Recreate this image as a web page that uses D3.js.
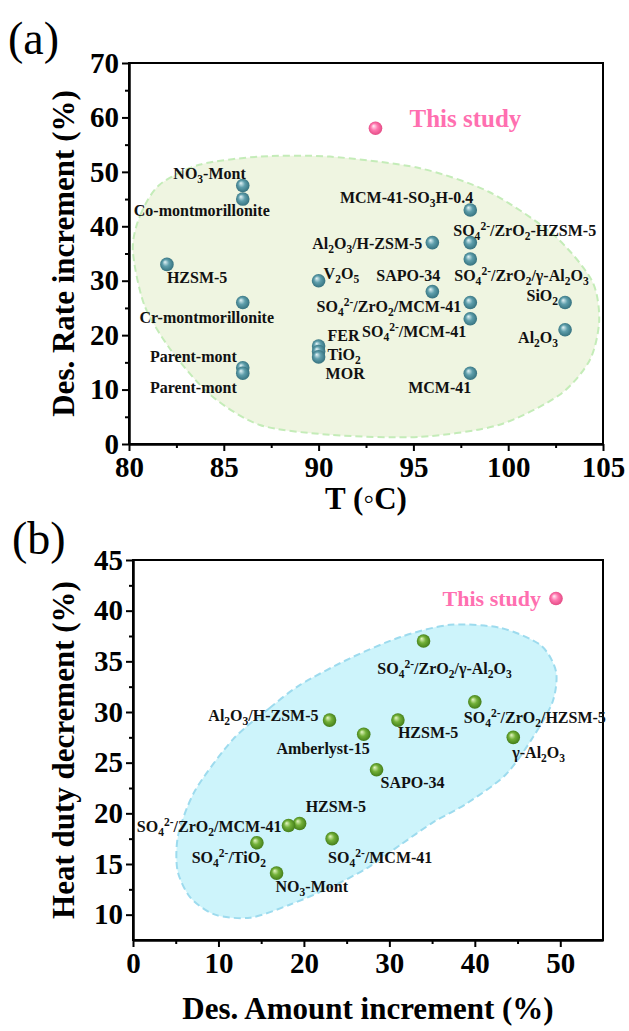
<!DOCTYPE html>
<html>
<head>
<meta charset="utf-8">
<script src="https://cdn.jsdelivr.net/npm/d3@7"></script>
<style>
body { margin: 0; background: #fff; }
svg { display: block; font-family: "Liberation Serif", "Times New Roman", serif; }
</style>
</head>
<body>
<div id="chart"></div>
<script>
// ---- panel (a): desorption rate increment vs temperature ----
var namesA = ["NO_{3}-Mont", "Co-montmorillonite", "HZSM-5", "Cr-montmorillonite", "Parent-mont", "Parent-mont",
    "V_{2}O_{5}", "FER", "TiO_{2}", "MOR", "Al_{2}O_{3}/H-ZSM-5", "MCM-41-SO_{3}H-0.4",
    "SO_{4}^{2-}/ZrO_{2}-HZSM-5", "SO_{4}^{2-}/ZrO_{2}/γ-Al_{2}O_{3}", "SAPO-34", "SO_{4}^{2-}/ZrO_{2}/MCM-41",
    "SO_{4}^{2-}/MCM-41", "MCM-41", "SiO_{2}", "Al_{2}O_{3}"];
var tempA = [86, 86, 82, 86, 86, 86, 90, 90, 90, 90, 96, 98, 98, 98, 96, 98, 98, 98, 103, 103];
var rateA = [47.5, 45, 33, 26, 14, 13, 30, 18, 17, 16, 37, 43, 37, 34, 28, 26, 23, 13, 26, 21];
var studyA = [93, 58];
// outline of the shaded region (a)
var blobTA = [80.2, 80.6, 81.6, 83.7, 86.9, 90.6, 95.3, 99.0, 102.4, 104.4, 104.8, 104.3, 102.7, 99.5, 95.3, 90.6, 86.9, 84.3, 82.2, 80.8];
var blobRA = [35.7, 42.1, 47.6, 51.3, 52.8, 52.8, 50.7, 46.3, 38.4, 30.1, 22.8, 15.4, 9.0, 3.5, 1.3, 1.7, 3.5, 9.0, 17.3, 25.6];
var ticksTA = [80, 85, 90, 95, 100, 105];
var ticksRA = [0, 10, 20, 30, 40, 50, 60, 70];

// ---- panel (b): heat duty decrement vs desorption amount increment ----
var namesB = ["SO_{4}^{2-}/ZrO_{2}/γ-Al_{2}O_{3}", "SO_{4}^{2-}/ZrO_{2}/HZSM-5", "γ-Al_{2}O_{3}", "Al_{2}O_{3}/H-ZSM-5",
    "HZSM-5", "Amberlyst-15", "SAPO-34", "HZSM-5", "SO_{4}^{2-}/ZrO_{2}/MCM-41", "SO_{4}^{2-}/TiO_{2}",
    "NO_{3}-Mont", "SO_{4}^{2-}/MCM-41"];
var amountB = [34, 40, 44.5, 23, 31, 27, 28.5, 19.5, 18.2, 14.5, 16.8, 23.3];
var heatB = [37, 31, 27.5, 29.2, 29.2, 27.8, 24.3, 19, 18.8, 17.1, 14.1, 17.5];
var studyB = [49.5, 41.2];
var blobXB = [11.7, 16.0, 19.6, 25.4, 31.3, 37.1, 43.0, 47.7, 49.5, 49.1, 46.8, 43.6, 39.1, 35.1, 31.3, 27.4, 23.1, 18.4, 13.7, 9.6, 6.7, 5.2, 5.3, 7.3];
var blobYB = [27.3, 30.4, 32.7, 35.3, 37.4, 38.6, 38.3, 36.6, 34.0, 31.0, 27.5, 23.8, 21.0, 19.1, 16.9, 14.6, 12.7, 11.0, 9.7, 10.0, 11.7, 14.4, 17.9, 22.3];
var ticksXB = [0, 10, 20, 30, 40, 50];
var ticksYB = [10, 15, 20, 25, 30, 35, 40, 45];

// label placement: [anchor, dx, dy]
var labA = [["end", 3, -6], ["middle", -41, 17], ["start", 0, 19], ["middle", -36, 21], ["end", -6, -6], ["end", -6, 20],
    ["start", 5, -2], ["start", 9, -5], ["start", 9, 9], ["start", 7, 22], ["end", -10, 6], ["end", 3, -7],
    ["start", -17, -7], ["start", -16, 22], ["middle", -24, -11], ["end", -9, 10], ["end", -4, 18], ["end", 1, 20],
    ["end", -7, -1], ["end", -7, 13]];
var labB = [["middle", 21, 33], ["start", -11, 21], ["start", -1, 21], ["end", -11, 1], ["start", 0, 18], ["end", 6, 20],
    ["start", 4, 18], ["start", 6, -11], ["end", -7, 7], ["end", 9, 20], ["start", -1, 19], ["start", -4, 24]];

var W = 629, H = 1031;
var svg = d3.select("#chart").append("svg").attr("width", W).attr("height", H);
var defs = svg.append("defs");

function ball(id, hi, mid, dark) {
    var g = defs.append("radialGradient").attr("id", id)
        .attr("cx", "50%").attr("cy", "50%").attr("r", "55%").attr("fx", "35%").attr("fy", "32%");
    g.append("stop").attr("offset", "0%").attr("stop-color", hi);
    g.append("stop").attr("offset", "45%").attr("stop-color", mid);
    g.append("stop").attr("offset", "100%").attr("stop-color", dark);
}
ball("teal", "#e4f4f7", "#5e9eab", "#306c79");
ball("green", "#e6f7c4", "#72b038", "#3d7716");
ball("pink", "#fff0f6", "#ff78b0", "#e0457f");

// text with _{sub} and ^{sup}
function rich(t, str) {
    var parts = str.split(/(_\{[^}]*\}|\^\{[^}]*\})/).filter(Boolean);
    var shift = 0;
    parts.forEach(function(p) {
        var s = t.append("tspan"), target = 0, txt = p;
        if (p[0] === "_") { target = 4; txt = p.slice(2, -1); s.attr("font-size", "0.72em"); }
        else if (p[0] === "^") { target = -6; txt = p.slice(2, -1); s.attr("font-size", "0.72em"); }
        s.attr("dy", target - shift).text(txt);
        shift = target;
    });
}

function panel(o) {
    var x = d3.scaleLinear().domain(o.xDom).range(o.xRange);
    var y = d3.scaleLinear().domain(o.yDom).range(o.yRange);
    var g = svg.append("g");

    // shaded region
    var pts = o.blobX.map(function(v, i) { return [v, o.blobY[i]]; });
    g.append("path")
        .attr("d", d3.line().x(function(d) { return x(d[0]); }).y(function(d) { return y(d[1]); })
            .curve(d3.curveCardinalClosed.tension(0.2))(pts))
        .attr("fill", o.blobFill).attr("stroke", o.blobStroke)
        .attr("stroke-width", 2).attr("stroke-dasharray", "7,4");

    // frame
    g.append("rect")
        .attr("x", o.xRange[0]).attr("y", o.yRange[1])
        .attr("width", o.xRange[1] - o.xRange[0]).attr("height", o.yRange[0] - o.yRange[1])
        .attr("fill", "none").attr("stroke", "#000").attr("stroke-width", 2);

    // axes
    g.append("g").attr("transform", "translate(0," + o.yRange[0] + ")")
        .call(d3.axisBottom(x).tickValues(o.xTicks).tickSize(7).tickSizeOuter(0).tickPadding(5));
    g.append("g").attr("transform", "translate(0," + o.yRange[0] + ")")
        .call(d3.axisBottom(x).tickValues(o.xMinor).tickSize(4).tickSizeOuter(0).tickFormat(""));
    g.append("g").attr("transform", "translate(" + o.xRange[0] + ",0)")
        .call(d3.axisLeft(y).tickValues(o.yTicks).tickSize(7).tickSizeOuter(0).tickPadding(3));
    g.append("g").attr("transform", "translate(" + o.xRange[0] + ",0)")
        .call(d3.axisLeft(y).tickValues(o.yMinor).tickSize(4).tickSizeOuter(0).tickFormat(""));
    g.selectAll(".domain").attr("stroke-width", 2);
    g.selectAll(".tick line").attr("stroke-width", 2);
    g.selectAll(".tick text").attr("font-family", "Liberation Serif").attr("font-weight", "bold")
        .attr("font-size", 29).attr("fill", "#000");

    // axis titles
    g.append("text").attr("x", (o.xRange[0] + o.xRange[1]) / 2).attr("y", o.xTitleY)
        .attr("text-anchor", "middle").attr("font-weight", "bold").attr("font-size", 31).text(o.xTitle);
    g.append("text").attr("transform", "translate(" + o.yTitleX + "," + (o.yRange[0] + o.yRange[1]) / 2 + ") rotate(-90)")
        .attr("text-anchor", "middle").attr("font-weight", "bold").attr("font-size", 31).text(o.yTitle);

    // panel letter
    g.append("text").attr("x", o.letterPos[0]).attr("y", o.letterPos[1])
        .attr("font-size", 46).text(o.letter);

    // points
    g.selectAll("circle.pt").data(o.xs).join("circle").attr("class", "pt")
        .attr("cx", function(d) { return x(d); })
        .attr("cy", function(d, i) { return y(o.ys[i]); })
        .attr("r", 6.8).attr("fill", "url(#" + o.ball + ")");
    g.append("circle").attr("cx", x(o.study[0])).attr("cy", y(o.study[1]))
        .attr("r", 6.8).attr("fill", "url(#pink)");

    // labels
    o.names.forEach(function(n, i) {
        var l = o.lab[i];
        var t = g.append("text")
            .attr("x", x(o.xs[i]) + l[1]).attr("y", y(o.ys[i]) + l[2])
            .attr("text-anchor", l[0]).attr("font-weight", "bold").attr("font-size", 16).attr("fill", "#111");
        rich(t, n);
    });
    g.append("text").attr("x", x(o.study[0]) + o.studyLab[1]).attr("y", y(o.study[1]) + o.studyLab[2])
        .attr("text-anchor", o.studyLab[0]).attr("font-weight", "bold").attr("font-size", o.studySize)
        .attr("fill", "#ff6fb0").text("This study");
}

panel({
    xDom: [80, 105], xRange: [129, 603], yDom: [0, 70], yRange: [444, 63],
    xTicks: ticksTA, xMinor: d3.range(82.5, 105, 5), yTicks: ticksRA, yMinor: d3.range(5, 70, 10),
    blobX: blobTA, blobY: blobRA, blobFill: "#eff5e1", blobStroke: "#c4ecb8",
    xTitle: "T (\u25e6C)", xTitleY: 509, yTitle: "Des. Rate increment (%)", yTitleX: 74,
    letter: "(a)", letterPos: [8, 54],
    xs: tempA, ys: rateA, names: namesA, lab: labA, ball: "teal",
    study: studyA, studyLab: ["start", 34, -1], studySize: 25
});

panel({
    xDom: [0, 55], xRange: [133, 603], yDom: [7.5, 45], yRange: [940, 560],
    xTicks: ticksXB, xMinor: d3.range(5, 55, 10), yTicks: ticksYB, yMinor: d3.range(12.5, 45, 5),
    blobX: blobXB, blobY: blobYB, blobFill: "#cdf4fb", blobStroke: "#9ddbee",
    xTitle: "Des. Amount increment (%)", xTitleY: 1019, yTitle: "Heat duty decrement (%)", yTitleX: 74,
    letter: "(b)", letterPos: [12, 554],
    xs: amountB, ys: heatB, names: namesB, lab: labB, ball: "green",
    study: studyB, studyLab: ["end", -15, 7], studySize: 22
});
</script>
</body>
</html>
